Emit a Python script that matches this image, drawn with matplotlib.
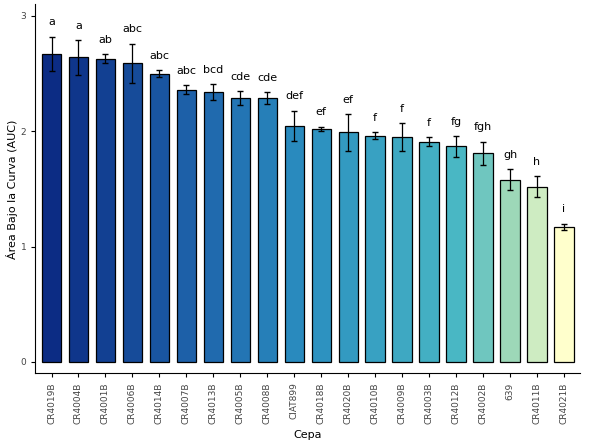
import numpy as np
import matplotlib.pyplot as plt
from matplotlib.colors import LinearSegmentedColormap

strains = ["CR4019B", "CR4004B", "CR4001B", "CR4006B", "CR4014B", "CR4007B", "CR4013B",
           "CR4005B", "CR4008B", "CIAT899", "CR4018B", "CR4020B", "CR4010B", "CR4009B",
           "CR4003B", "CR4012B", "CR4002B", "639", "CR4011B", "CR4021B"]
auc = [2.67, 2.64, 2.63, 2.59, 2.50, 2.36, 2.34, 2.29, 2.29, 2.05,
       2.02, 1.99, 1.96, 1.95, 1.91, 1.87, 1.81, 1.58, 1.52, 1.17]
err = [0.15, 0.15, 0.04, 0.17, 0.03, 0.04, 0.07, 0.06, 0.05, 0.13,
       0.02, 0.16, 0.03, 0.12, 0.04, 0.09, 0.10, 0.09, 0.09, 0.03]
letters = ["a", "a", "ab", "abc", "abc", "abc", "bcd", "cde", "cde", "def",
           "ef", "ef", "f", "f", "f", "fg", "fgh", "gh", "h", "i"]

cmap = LinearSegmentedColormap.from_list(
    "auc", [(0, "#0c2c84"), (0.3, "#1f67ad"), (0.5, "#2a8fc0"), (0.8, "#4ab8c4"),
            (0.9, "#9fd9b8"), (1.0, "#ffffcc")])

fig, ax = plt.subplots(figsize=(5.89, 4.42), dpi=100)
x = np.arange(len(strains))
colors = cmap(np.linspace(0, 1, len(strains)))
ax.bar(x, auc, width=0.72, color=colors, edgecolor="black", linewidth=0.9)
ax.errorbar(x, auc, yerr=err, fmt="none", ecolor="black", elinewidth=0.9, capsize=2.5)
for xi, v, e, l in zip(x, auc, err, letters):
    ax.text(xi, v + e + 0.08, l, ha="center", va="bottom", fontsize=8)

ax.set_xlim(-0.6, len(strains) - 0.4)
ax.set_ylim(-0.1, 3.1)
ax.set_yticks([0, 1, 2, 3])
ax.set_xticks(x)
ax.set_xticklabels(strains, rotation=90, fontsize=6.5, color="#444444")
ax.tick_params(axis="y", labelsize=6.5, labelcolor="#444444")
ax.tick_params(length=3)
ax.set_xlabel("Cepa", fontsize=8)
ax.set_ylabel("Área Bajo la Curva (AUC)", fontsize=8, labelpad=2)
for s in ["top", "right"]:
    ax.spines[s].set_visible(False)
fig.subplots_adjust(left=0.06, right=0.985, top=0.99, bottom=0.155)
fig.savefig("out.png")
